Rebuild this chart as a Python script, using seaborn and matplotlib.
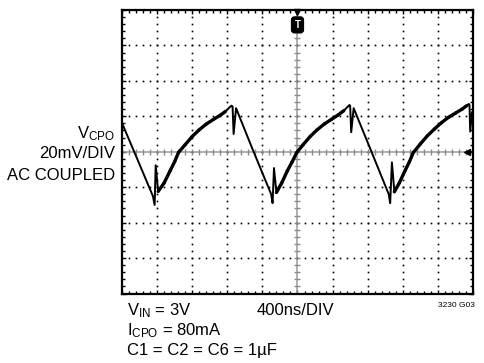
import numpy as np
import pandas as pd
import seaborn as sns
import matplotlib
matplotlib.use("Agg")
import matplotlib.pyplot as plt

# scope trace in divisions (x: 0..10, y: -4..4)
trace_x = [0.00, 0.45, 0.88, 0.93, 0.96, 1.03,
           1.20, 1.37, 1.50, 1.61, 1.80, 2.00, 2.20, 2.40, 2.60, 2.80, 2.95, 3.05, 3.12,
           3.15, 3.18, 3.25, 3.70, 4.25, 4.29, 4.33, 4.40,
           4.55, 4.71, 4.85, 4.98, 5.16, 5.36, 5.56, 5.76, 5.96, 6.16, 6.32, 6.42, 6.48,
           6.50, 6.53, 6.60, 7.10, 7.60, 7.64, 7.69, 7.76,
           7.90, 8.06, 8.19, 8.30, 8.50, 8.70, 8.90, 9.10, 9.30, 9.50, 9.70, 9.82, 9.88,
           9.90, 9.92, 9.97, 10.00]
trace_y = [0.81, -0.24, -1.25, -1.50, -0.38, -1.12,
           -0.88, -0.54, -0.28, -0.02, 0.20, 0.43, 0.62, 0.78, 0.91, 1.03, 1.14, 1.24, 1.30,
           1.28, 0.50, 1.23, 0.12, -1.20, -1.45, -0.46, -1.15,
           -0.88, -0.54, -0.28, -0.02, 0.20, 0.43, 0.62, 0.78, 0.91, 1.04, 1.16, 1.26, 1.32,
           1.30, 0.55, 1.23, 0.02, -1.20, -1.45, -0.30, -1.13,
           -0.88, -0.54, -0.28, -0.02, 0.22, 0.45, 0.64, 0.82, 0.97, 1.09, 1.21, 1.30, 1.35,
           1.32, 0.57, 1.11, 1.15]

left_labels = ["V$_{\\mathrm{CPO}}$", "20mV/DIV", "AC COUPLED"]
bottom_labels = ["V$_{\\mathrm{IN}}$ = 3V", "I$_{\\mathrm{CPO}}$ = 80mA", "C1 = C2 = C6 = 1\u00b5F"]
time_label = "400ns/DIV"
fig_id = "3230 G03"

sns.set_style("white")
plt.rcParams["font.family"] = ["Liberation Sans", "DejaVu Sans"]
plt.rcParams["mathtext.fontset"] = "custom"
plt.rcParams["mathtext.rm"] = "Liberation Sans"
plt.rcParams["mathtext.it"] = "Liberation Sans"
plt.rcParams["text.color"] = "black"

W, H = 485, 363
fig = plt.figure(figsize=(W / 100, H / 100), dpi=100)
ax = fig.add_axes([122 / W, 1 - 293.5 / H, 351 / W, 283.5 / H])
ax.set_xlim(0, 10)
ax.set_ylim(-4, 4)

# dotted graticule
fine = np.arange(0, 10.01, 0.2)
fine_y = np.arange(-4, 4.01, 0.2)
for k in [1, 2, 3, 4, 6, 7, 8, 9]:
    ax.plot(np.full_like(fine_y, k), fine_y, ls="none", marker="s", ms=1.2, color="black", mew=0)
for k in [-3, -2, -1, 1, 2, 3]:
    ax.plot(fine, np.full_like(fine, k), ls="none", marker="s", ms=1.2, color="black", mew=0)

# centre cross with fine ticks
ax.axhline(0, color="#9a9a9a", lw=1.1, zorder=1)
ax.axvline(5, color="#9a9a9a", lw=1.1, zorder=1)
ax.plot(fine, np.zeros_like(fine), ls="none", marker="|", ms=4, mew=1.0, color="#8a8a8a")
ax.plot(np.full_like(fine_y, 5), fine_y, ls="none", marker="_", ms=4, mew=1.0, color="#8a8a8a")

# frame ticks
ax.set_xticks(np.arange(0, 11, 1))
ax.set_yticks(np.arange(-4, 5, 1))
ax.set_xticks(fine, minor=True)
ax.set_yticks(fine_y, minor=True)
ax.tick_params(which="both", direction="in", top=True, right=True, bottom=True, left=True,
               labelbottom=False, labelleft=False, color="black")
ax.tick_params(which="major", length=3, width=1)
ax.tick_params(which="minor", length=2.5, width=1)
for s in ax.spines.values():
    s.set_linewidth(1.6)
    s.set_color("black")

# trace
df = pd.DataFrame({"t": trace_x, "v": trace_y})
sns.lineplot(data=df, x="t", y="v", sort=False, estimator=None, color="black", lw=1.4, ax=ax, zorder=5)
# noisier rising portions drawn thicker
tx = np.array(trace_x)
ty = np.array(trace_y)
for i in range(len(tx) - 1):
    if ty[i + 1] > ty[i] and tx[i + 1] - tx[i] > 0.1:
        ax.plot(tx[i:i + 2], ty[i:i + 2], color="black", lw=2.4, solid_capstyle="round", zorder=5)
ax.set_xlabel("")
ax.set_ylabel("")

# trigger and ground markers
ax.plot([5], [3.93], marker="v", ms=5, color="black", clip_on=False, zorder=6)
ax.text(5, 3.58, "T", ha="center", va="center", color="white", fontsize=7, fontweight="bold",
        bbox=dict(boxstyle="round,pad=0.3", fc="black", ec="black"), zorder=6)
ax.plot([9.82, 10.0], [0, 0], color="black", lw=1.2, zorder=6)
ax.plot([9.84], [0], marker="<", ms=5, color="black", zorder=6)

fs = 12
def ftext(x, y, s, **kw):
    fig.text(x / W, 1 - y / H, s, fontsize=fs, va="baseline", **kw)

ftext(115, 138.5, left_labels[0], ha="right")
ftext(115, 158.5, left_labels[1], ha="right")
ftext(115, 180, left_labels[2], ha="right")
ftext(127, 315, bottom_labels[0], ha="left")
ftext(127, 335, bottom_labels[1], ha="left")
ftext(127, 355, bottom_labels[2], ha="left")
ftext(257, 315, time_label, ha="left")
fig.text(475 / W, 1 - 307 / H, fig_id, fontsize=6, ha="right", va="baseline")

fig.savefig("out.png", dpi=100)
